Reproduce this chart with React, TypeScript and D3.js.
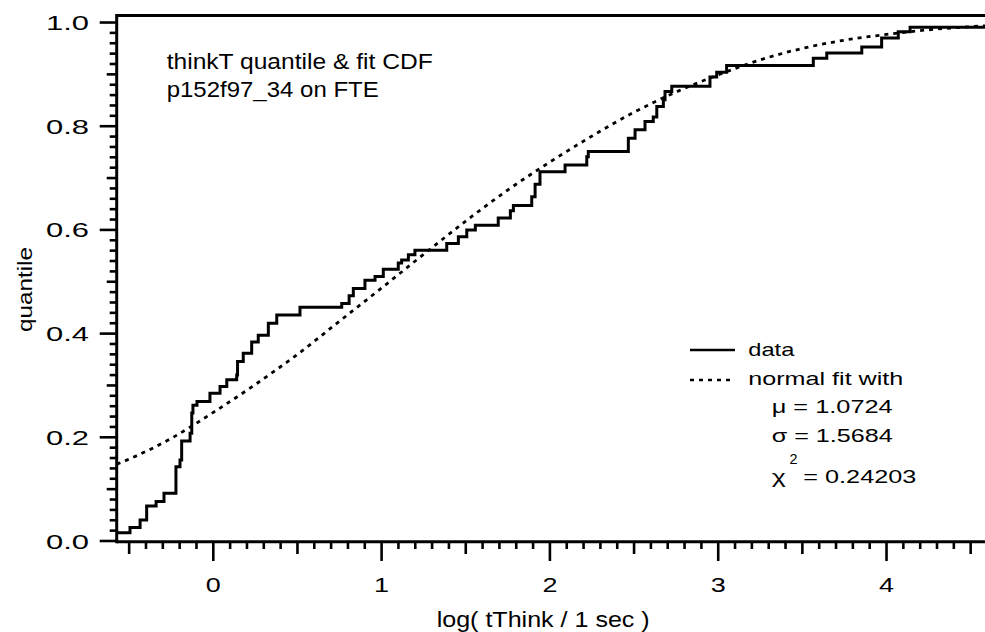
import React from 'react';
import * as d3 from 'd3';

// Empirical CDF (step function): x position of each step and quantile after the step
const stepX = [-0.574, -0.495, -0.435, -0.396, -0.34, -0.293, -0.222, -0.198, -0.188, -0.138, -0.128, -0.121, -0.097,
  -0.02, 0.04, 0.08, 0.139, 0.144, 0.178, 0.228, 0.267, 0.327, 0.377, 0.515, 0.763, 0.807, 0.832, 0.901, 0.961,
  1.01, 1.099, 1.119, 1.159, 1.198, 1.387, 1.456, 1.506, 1.557, 1.693, 1.765, 1.783, 1.892, 1.912, 1.941,
  2.09, 2.219, 2.228, 2.466, 2.506, 2.565, 2.614, 2.635, 2.674, 2.684, 2.724, 2.951, 2.991, 3.05,
  3.565, 3.645, 3.853, 3.971, 4.07, 4.14];
const stepQ = [0.016, 0.026, 0.0405, 0.0675, 0.076, 0.092, 0.143, 0.156, 0.193, 0.208, 0.247, 0.262, 0.269,
  0.285, 0.298, 0.311, 0.32, 0.346, 0.362, 0.384, 0.397, 0.42, 0.436, 0.451, 0.458, 0.473, 0.487, 0.503, 0.51,
  0.524, 0.536, 0.542, 0.552, 0.561, 0.574, 0.587, 0.6, 0.609, 0.623, 0.637, 0.647, 0.664, 0.688, 0.712,
  0.725, 0.741, 0.751, 0.777, 0.793, 0.809, 0.818, 0.838, 0.851, 0.867, 0.877, 0.895, 0.904, 0.917,
  0.931, 0.941, 0.953, 0.97, 0.982, 0.991];

// Normal fit curve
const fitX = [-0.574, -0.5, -0.25, 0, 0.25, 0.5, 0.75, 1.0, 1.25, 1.5, 1.75, 2.0, 2.25, 2.5, 2.75, 3.0, 3.25, 3.5, 3.75, 4.0, 4.25, 4.5, 4.6];
const fitQ = [0.148, 0.158, 0.198, 0.248, 0.302, 0.36, 0.424, 0.488, 0.553, 0.617, 0.677, 0.731, 0.781, 0.827, 0.866, 0.899, 0.928, 0.95, 0.966, 0.977, 0.986, 0.992, 0.994];

const xTickValues = [0, 1, 2, 3, 4];
const xTickLabels = ['0', '1', '2', '3', '4'];
const yTickValues = [0, 0.2, 0.4, 0.6, 0.8, 1.0];
const yTickLabels = ['0.0', '0.2', '0.4', '0.6', '0.8', '1.0'];
const titleLines = ['thinkT quantile & fit CDF', 'p152f97_34 on FTE'];
const legendNames = ['data', 'normal fit with'];
const fitParamLines = ['\u03BC = 1.0724', '\u03C3 = 1.5684'];
const chiValue = '= 0.24203';
const xTitle = 'log( tThink / 1 sec )';
const yTitle = 'quantile';

const FONT = '"Liberation Sans", Arial, Helvetica, sans-serif';

export default function App() {
  const W = 985, H = 632;
  const x = d3.scaleLinear().domain([-0.574, 4.6]).range([116.7, 987.5]);
  const y = d3.scaleLinear().domain([0, 1.0145]).range([541, 15]);

  const stepPts: [number, number][] = stepX.map((v, i) => [v, stepQ[i]]);
  stepPts.push([4.6, stepQ[stepQ.length - 1]]);
  const stepPath = d3.line<[number, number]>()
    .x(d => x(d[0])).y(d => y(d[1])).curve(d3.curveStepAfter)(stepPts) || '';
  const fitPts: [number, number][] = fitX.map((v, i) => [v, fitQ[i]]);
  const fitPath = d3.line<[number, number]>()
    .x(d => x(d[0])).y(d => y(d[1])).curve(d3.curveMonotoneX)(fitPts) || '';

  const xMinor = d3.range(-5, 47).map(i => i / 10).filter(v => v >= -0.574 && v <= 4.6);
  const yMinor = d3.range(0, 51).map(i => i / 50);

  const x0 = x(-0.574), x1 = W + 5;
  const yb = y(0), yt = 15.5;

  return (
    <svg width={W} height={H} style={{ position: 'absolute', left: 0, top: 0, background: '#fff' }}
      fontFamily={FONT}>
      <rect x={0} y={0} width={W} height={H} fill="#fff" />
      {/* x ticks */}
      {xMinor.map((v, i) => {
        const k = Math.round(v * 10);
        const len = k % 10 === 0 ? 20 : k % 5 === 0 ? 13 : 8;
        return <line key={'xt' + i} x1={x(v)} x2={x(v)} y1={yb} y2={yb + len} stroke="#000" strokeWidth={2.6} />;
      })}
      {/* y ticks */}
      {yMinor.map((v, i) => {
        const k = Math.round(v * 50);
        const len = k % 10 === 0 ? 17 : k % 5 === 0 ? 10 : 7;
        return <line key={'yt' + i} x1={x0 - len} x2={x0} y1={y(v)} y2={y(v)} stroke="#000" strokeWidth={2.6} />;
      })}
      {/* frame */}
      <line x1={x0} x2={x1} y1={yb + 0.7} y2={yb + 0.7} stroke="#000" strokeWidth={3} />
      <line x1={x0} x2={x1} y1={yt} y2={yt} stroke="#000" strokeWidth={3} />
      <line x1={x0} x2={x0} y1={yt - 1.5} y2={yb + 2.2} stroke="#000" strokeWidth={3} />

      {/* tick labels */}
      {xTickValues.map((v, i) => (
        <text key={'xl' + i} x={x(v)} y={591.7} fontSize={21} textAnchor="middle"
          textLength={15} lengthAdjust="spacingAndGlyphs">{xTickLabels[i]}</text>
      ))}
      {yTickValues.map((v, i) => (
        <text key={'yl' + i} x={89} y={y(v) + 7.5} fontSize={21} textAnchor="end"
          textLength={43} lengthAdjust="spacingAndGlyphs">{yTickLabels[i]}</text>
      ))}

      {/* axis titles */}
      <text x={436.7} y={627} fontSize={22} textLength={213} lengthAdjust="spacingAndGlyphs">{xTitle}</text>
      <text transform={`translate(31.7,${289.5}) rotate(-90)`} x={0} y={0} fontSize={21} textAnchor="middle"
        textLength={85} lengthAdjust="spacingAndGlyphs">{yTitle}</text>

      {/* curves */}
      <path d={fitPath} fill="none" stroke="#000" strokeWidth={2.8} strokeDasharray="4,5" />
      <path d={stepPath} fill="none" stroke="#000" strokeWidth={3} strokeLinejoin="miter" />

      {/* title */}
      <text x={166.7} y={69.3} fontSize={22} textLength={266} lengthAdjust="spacingAndGlyphs">{titleLines[0]}</text>
      <text x={166.7} y={96.7} fontSize={22} textLength={212} lengthAdjust="spacingAndGlyphs">{titleLines[1]}</text>

      {/* legend */}
      <line x1={690} x2={735} y1={350} y2={350} stroke="#000" strokeWidth={2.5} />
      <text x={748.3} y={356} fontSize={19} textLength={46} lengthAdjust="spacingAndGlyphs">{legendNames[0]}</text>
      <line x1={690} x2={735} y1={380} y2={380} stroke="#000" strokeWidth={2.5} strokeDasharray="4,5" />
      <text x={748.3} y={385} fontSize={19} textLength={155} lengthAdjust="spacingAndGlyphs">{legendNames[1]}</text>
      <text x={771.7} y={413.3} fontSize={19} textLength={121} lengthAdjust="spacingAndGlyphs">{fitParamLines[0]}</text>
      <text x={771.7} y={441.7} fontSize={19} textLength={121} lengthAdjust="spacingAndGlyphs">{fitParamLines[1]}</text>
      <text x={771.7} y={483.3} fontSize={19} textLength={14} lengthAdjust="spacingAndGlyphs">{'\u03C7'}</text>
      <text x={789.5} y={464} fontSize={14} textLength={8} lengthAdjust="spacingAndGlyphs">2</text>
      <text x={803.3} y={483.3} fontSize={19} textLength={113} lengthAdjust="spacingAndGlyphs">{chiValue}</text>
    </svg>
  );
}
